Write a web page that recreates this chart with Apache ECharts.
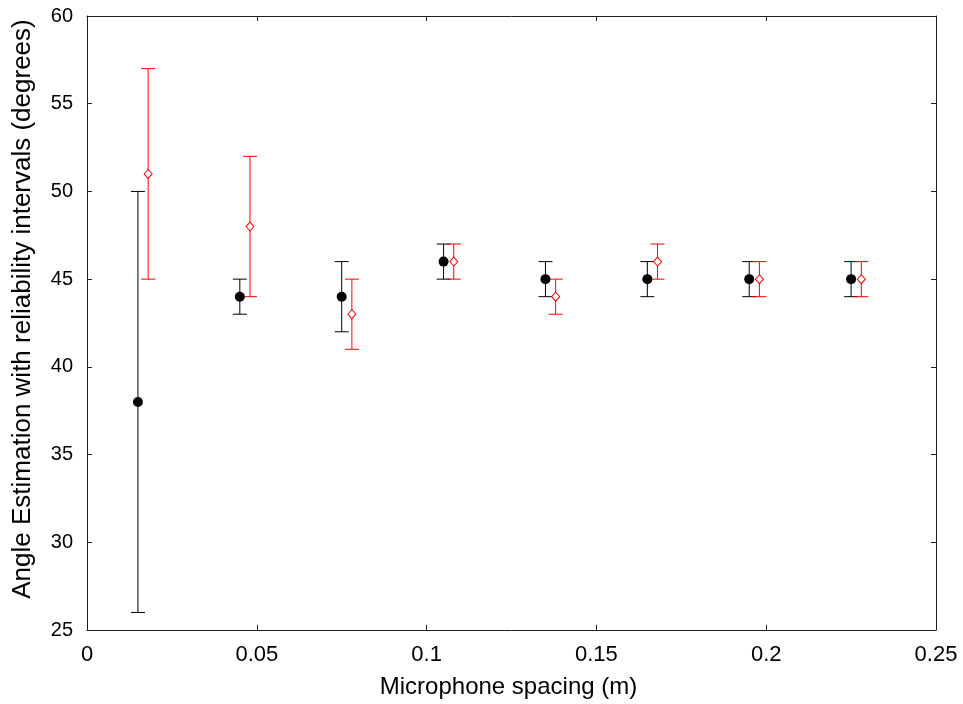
<!DOCTYPE html>
<html>
<head>
<meta charset="utf-8">
<script src="https://cdn.jsdelivr.net/npm/echarts@6/dist/echarts.min.js"></script>
<style>
  html, body { margin: 0; padding: 0; background: #fff; }
  #chart { width: 963px; height: 704px; }
</style>
</head>
<body>
<div id="chart"></div>
<script>
// Microphone spacing (m) for the two estimators
const spacingBlack = [0.015, 0.045, 0.075, 0.105, 0.135, 0.165, 0.195, 0.225];
const spacingRed   = [0.018, 0.048, 0.078, 0.108, 0.138, 0.168, 0.198, 0.228];

// Estimated angle (degrees) and reliability interval bounds
const angleBlack = [38, 44, 44, 46, 45, 45, 45, 45];
const lowBlack   = [26, 43, 42, 45, 44, 44, 44, 44];
const highBlack  = [50, 45, 46, 47, 46, 46, 46, 46];

const angleRed = [51, 48, 43, 46, 44, 46, 45, 45];
const lowRed   = [45, 44, 41, 45, 43, 45, 44, 44];
const highRed  = [57, 52, 45, 47, 45, 47, 46, 46];

// Axis ranges
const xMin = 0, xMax = 0.25, xStep = 0.05;
const yMin = 25, yMax = 60, yStep = 5;

const FONT = "'Liberation Sans', Arial, sans-serif";

function errorBarSeries(xs, lo, hi, color) {
  return {
    type: 'custom',
    data: xs.map((x, i) => [x, lo[i], hi[i]]),
    renderItem: function (params, api) {
      const x = api.value(0);
      const pLo = api.coord([x, api.value(1)]);
      const pHi = api.coord([x, api.value(2)]);
      const half = 7;
      const style = { stroke: color, lineWidth: 1, fill: null };
      return {
        type: 'group',
        children: [
          { type: 'line', shape: { x1: pLo[0], y1: pLo[1], x2: pHi[0], y2: pHi[1] }, style: style },
          { type: 'line', shape: { x1: pLo[0] - half, y1: pLo[1], x2: pLo[0] + half, y2: pLo[1] }, style: style },
          { type: 'line', shape: { x1: pHi[0] - half, y1: pHi[1], x2: pHi[0] + half, y2: pHi[1] }, style: style }
        ]
      };
    },
    silent: true,
    z: 2
  };
}

const frameLine = { show: true, onZero: false, lineStyle: { color: '#222', width: 1 } };
const innerTick = { show: true, inside: true, length: 5, lineStyle: { color: '#222', width: 1 } };

const chart = echarts.init(document.getElementById('chart'), null, { renderer: 'canvas' });

chart.setOption({
  animation: false,
  backgroundColor: '#fff',
  grid: { left: 87, right: 27, top: 16, bottom: 71, containLabel: false },
  xAxis: [
    {
      type: 'value', min: xMin, max: xMax, interval: xStep, position: 'bottom',
      axisLine: frameLine, axisTick: innerTick, splitLine: { show: false },
      axisLabel: { color: '#000', fontSize: 22, fontFamily: FONT, margin: 14,
                   formatter: v => String(+v.toFixed(2)) },
      name: 'Microphone spacing (m)', nameLocation: 'middle', nameGap: 45,
      nameTextStyle: { color: '#000', fontSize: 24, fontFamily: FONT, padding: [0, 6, 0, 0] }
    },
    {
      type: 'value', min: xMin, max: xMax, interval: xStep, position: 'top',
      axisLine: frameLine, axisTick: innerTick, splitLine: { show: false },
      axisLabel: { show: false }
    }
  ],
  yAxis: [
    {
      type: 'value', min: yMin, max: yMax, interval: yStep, position: 'left',
      axisLine: frameLine, axisTick: innerTick, splitLine: { show: false },
      axisLabel: { color: '#000', fontSize: 20, fontFamily: FONT, margin: 14 },
      name: 'Angle Estimation with reliability intervals (degrees)',
      nameLocation: 'middle', nameGap: 51, nameRotate: 90,
      nameTextStyle: { color: '#000', fontSize: 26, fontFamily: FONT, padding: [0, 0, 0, 28] }
    },
    {
      type: 'value', min: yMin, max: yMax, interval: yStep, position: 'right',
      axisLine: frameLine, axisTick: innerTick, splitLine: { show: false },
      axisLabel: { show: false }
    }
  ],
  series: [
    errorBarSeries(spacingBlack, lowBlack, highBlack, '#000'),
    errorBarSeries(spacingRed, lowRed, highRed, '#ff0000'),
    {
      type: 'scatter',
      data: spacingBlack.map((x, i) => [x, angleBlack[i]]),
      symbol: 'circle', symbolSize: 10,
      itemStyle: { color: '#000', opacity: 1 },
      silent: true, z: 3
    },
    {
      type: 'scatter',
      data: spacingRed.map((x, i) => [x, angleRed[i]]),
      symbol: 'diamond', symbolSize: [8, 9],
      itemStyle: { color: '#fff', borderColor: '#ff0000', borderWidth: 1, opacity: 1 },
      silent: true, z: 3
    }
  ]
});
</script>
</body>
</html>
